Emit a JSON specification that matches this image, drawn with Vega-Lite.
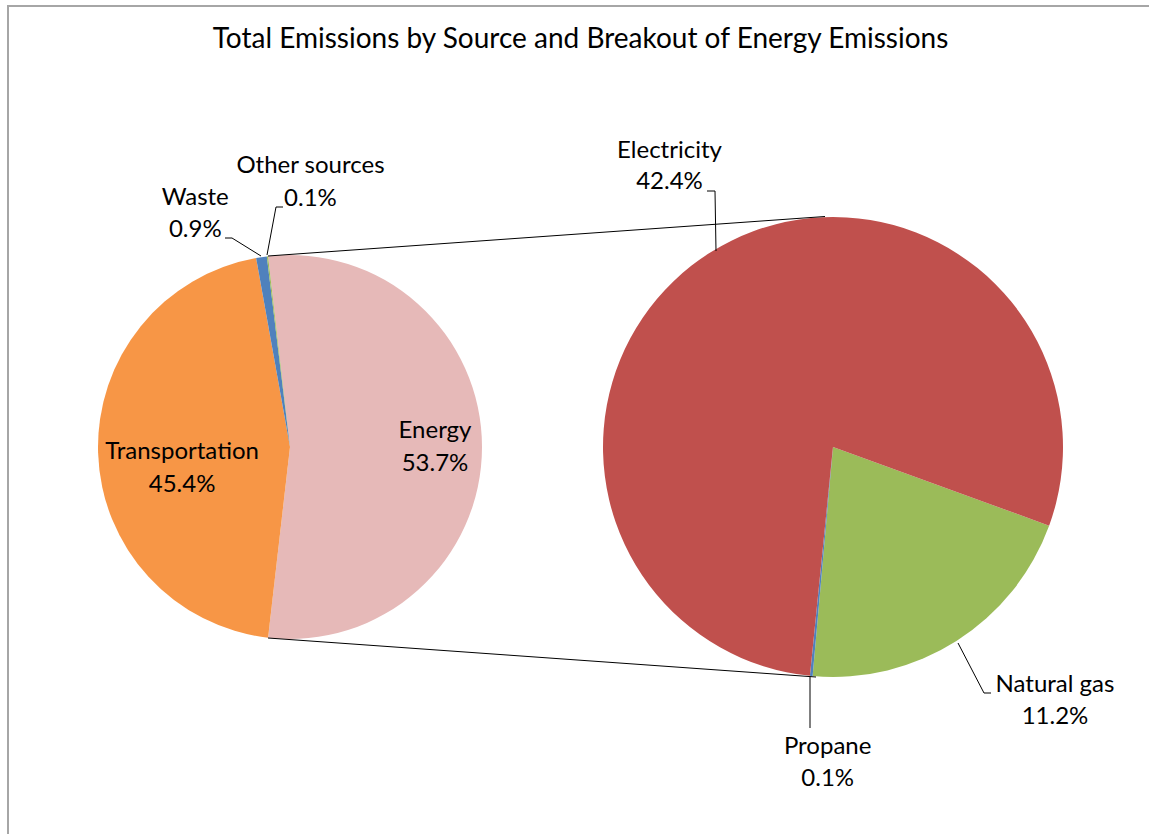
{
  "$schema": "https://vega.github.io/schema/vega-lite/v6.json",
  "width": 1145,
  "height": 850,
  "autosize": {"type": "none"},
  "padding": {"left": 8, "top": 6, "right": 0, "bottom": 0},
  "background": "white",
  "view": {"stroke": "#A6A6A6", "strokeWidth": 2},
  "title": {
    "text": "Total Emissions by Source and Breakout of Energy Emissions",
    "font": "Lato",
    "fontSize": 28,
    "fontWeight": "normal",
    "color": "#000000",
    "anchor": "middle",
    "offset": -48
  },
  "datasets": {
    "emissions": [
      {"pie": "Total", "source": "Energy", "share": 53.7, "ord": 1, "label": "Energy\n53.7%"},
      {"pie": "Total", "source": "Transportation", "share": 45.4, "ord": 2, "label": "Transportation\n45.4%"},
      {"pie": "Total", "source": "Waste", "share": 0.9, "ord": 3, "label": "Waste\n0.9%"},
      {"pie": "Total", "source": "Other sources", "share": 0.1, "ord": 4, "label": "Other sources\n0.1%"},
      {"pie": "Energy", "source": "Natural gas", "share": 11.2, "ord": 1, "label": "Natural gas\n11.2%"},
      {"pie": "Energy", "source": "Propane", "share": 0.1, "ord": 2, "label": "Propane\n0.1%"},
      {"pie": "Energy", "source": "Electricity", "share": 42.4, "ord": 3, "label": "Electricity\n42.4%"}
    ],
    "leaders": [
      {"seg": "connector top", "i": 0, "px": 268, "py": 256},
      {"seg": "connector top", "i": 1, "px": 825, "py": 216.5},
      {"seg": "connector bottom", "i": 0, "px": 268, "py": 638},
      {"seg": "connector bottom", "i": 1, "px": 816, "py": 677},
      {"seg": "Other sources", "i": 0, "px": 267, "py": 255},
      {"seg": "Other sources", "i": 1, "px": 276, "py": 207},
      {"seg": "Other sources", "i": 2, "px": 283, "py": 207},
      {"seg": "Waste", "i": 0, "px": 225, "py": 238},
      {"seg": "Waste", "i": 1, "px": 232, "py": 238},
      {"seg": "Waste", "i": 2, "px": 261, "py": 256},
      {"seg": "Electricity", "i": 0, "px": 707, "py": 191},
      {"seg": "Electricity", "i": 1, "px": 715, "py": 191},
      {"seg": "Electricity", "i": 2, "px": 716, "py": 251},
      {"seg": "Natural gas", "i": 0, "px": 958, "py": 643},
      {"seg": "Natural gas", "i": 1, "px": 984, "py": 693},
      {"seg": "Natural gas", "i": 2, "px": 991, "py": 693},
      {"seg": "Propane", "i": 0, "px": 810, "py": 677},
      {"seg": "Propane", "i": 1, "px": 810, "py": 728}
    ]
  },
  "layer": [
    {
      "data": {"name": "emissions"},
      "transform": [{"filter": "datum.pie === 'Total'"}],
      "encoding": {
        "x": {"field": "pie", "type": "nominal", "axis": null, "scale": {"type": "point", "domain": ["Total", "Energy"], "range": [282, 825], "padding": 0}},
        "y": {"field": "pie", "type": "nominal", "axis": null, "scale": {"type": "point", "domain": ["Total", "Energy"], "range": [441, 441], "padding": 0}},
        "theta": {"field": "share", "type": "quantitative", "stack": true, "scale": {"domain": [0, 100.1], "range": [-0.11467, 6.16852], "nice": false}},
        "order": {"field": "ord", "type": "quantitative"},
        "color": {
          "field": "source", "type": "nominal", "legend": null,
          "scale": {
            "domain": ["Energy", "Transportation", "Waste", "Other sources", "Electricity", "Natural gas", "Propane"],
            "range": ["#E6B9B8", "#F79646", "#4F81BD", "#9BBB59", "#C0504D", "#9BBB59", "#4F81BD"]
          }
        }
      },
      "layer": [
        {"mark": {"type": "arc", "outerRadius": 192}},
        {
          "mark": {"type": "text", "radius": 145, "dy": -9, "font": "Lato", "fontSize": 24, "lineBreak": "\n", "lineHeight": 33, "align": "center", "baseline": "alphabetic"},
          "encoding": {"detail": {"field": "source", "type": "nominal"}, "color": {"value": "#000000"}, "text": {"condition": {"test": "datum.source === 'Energy'", "field": "label", "type": "nominal"}, "value": ""}}
        },
        {
          "mark": {"type": "text", "radius": 108, "dy": 9, "font": "Lato", "fontSize": 24, "lineBreak": "\n", "lineHeight": 33, "align": "center", "baseline": "alphabetic"},
          "encoding": {"detail": {"field": "source", "type": "nominal"}, "color": {"value": "#000000"}, "text": {"condition": {"test": "datum.source === 'Transportation'", "field": "label", "type": "nominal"}, "value": ""}}
        },
        {
          "mark": {"type": "text", "radius": 200, "dx": -65, "dy": -44, "font": "Lato", "fontSize": 24, "lineBreak": "\n", "lineHeight": 32, "align": "center", "baseline": "alphabetic"},
          "encoding": {"detail": {"field": "source", "type": "nominal"}, "color": {"value": "#000000"}, "text": {"condition": {"test": "datum.source === 'Waste'", "field": "label", "type": "nominal"}, "value": ""}}
        },
        {
          "mark": {"type": "text", "radius": 200, "dx": 44, "dy": -75, "font": "Lato", "fontSize": 24, "lineBreak": "\n", "lineHeight": 33, "align": "center", "baseline": "alphabetic"},
          "encoding": {"detail": {"field": "source", "type": "nominal"}, "color": {"value": "#000000"}, "text": {"condition": {"test": "datum.source === 'Other sources'", "field": "label", "type": "nominal"}, "value": ""}}
        }
      ]
    },
    {
      "data": {"name": "emissions"},
      "transform": [{"filter": "datum.pie === 'Energy'"}],
      "encoding": {
        "x": {"field": "pie", "type": "nominal", "axis": null, "scale": {"type": "point", "domain": ["Total", "Energy"], "range": [282, 825], "padding": 0}},
        "y": {"field": "pie", "type": "nominal", "axis": null, "scale": {"type": "point", "domain": ["Total", "Energy"], "range": [441, 441], "padding": 0}},
        "theta": {"field": "share", "type": "quantitative", "stack": true, "scale": {"domain": [0, 53.7], "range": [1.91986, 8.20305], "nice": false}},
        "order": {"field": "ord", "type": "quantitative"},
        "color": {
          "field": "source", "type": "nominal", "legend": null,
          "scale": {
            "domain": ["Energy", "Transportation", "Waste", "Other sources", "Electricity", "Natural gas", "Propane"],
            "range": ["#E6B9B8", "#F79646", "#4F81BD", "#9BBB59", "#C0504D", "#9BBB59", "#4F81BD"]
          }
        }
      },
      "layer": [
        {"mark": {"type": "arc", "outerRadius": 230}},
        {
          "mark": {"type": "text", "radius": 300, "dx": 61, "dy": -8, "font": "Lato", "fontSize": 24, "lineBreak": "\n", "lineHeight": 32, "align": "center", "baseline": "alphabetic"},
          "encoding": {"detail": {"field": "source", "type": "nominal"}, "color": {"value": "#000000"}, "text": {"condition": {"test": "datum.source === 'Natural gas'", "field": "label", "type": "nominal"}, "value": ""}}
        },
        {
          "mark": {"type": "text", "radius": 300, "dx": 23, "dy": 8, "font": "Lato", "fontSize": 24, "lineBreak": "\n", "lineHeight": 32, "align": "center", "baseline": "alphabetic"},
          "encoding": {"detail": {"field": "source", "type": "nominal"}, "color": {"value": "#000000"}, "text": {"condition": {"test": "datum.source === 'Propane'", "field": "label", "type": "nominal"}, "value": ""}}
        },
        {
          "mark": {"type": "text", "radius": 300, "dx": -4, "dy": -35, "font": "Lato", "fontSize": 24, "lineBreak": "\n", "lineHeight": 31, "align": "center", "baseline": "alphabetic"},
          "encoding": {"detail": {"field": "source", "type": "nominal"}, "color": {"value": "#000000"}, "text": {"condition": {"test": "datum.source === 'Electricity'", "field": "label", "type": "nominal"}, "value": ""}}
        }
      ]
    },
    {
      "data": {"name": "leaders"},
      "mark": {"type": "line", "color": "#000000", "strokeWidth": 1},
      "encoding": {
        "x": {"field": "px", "type": "quantitative", "axis": null, "scale": {"domain": [8, 1153], "nice": false, "zero": false}},
        "y": {"field": "py", "type": "quantitative", "axis": null, "scale": {"domain": [6, 856], "reverse": true, "nice": false, "zero": false}},
        "detail": {"field": "seg", "type": "nominal"},
        "order": {"field": "i", "type": "quantitative"}
      }
    }
  ],
  "resolve": {"scale": {"x": "independent", "y": "independent", "theta": "independent"}}
}
